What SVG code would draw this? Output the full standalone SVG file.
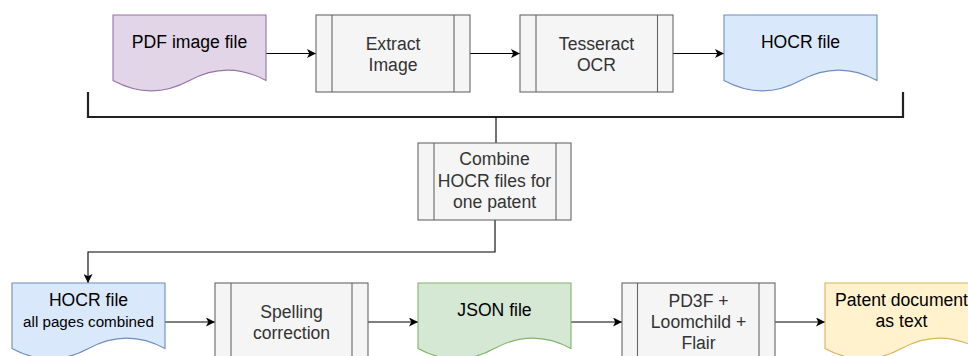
<svg xmlns="http://www.w3.org/2000/svg" width="968" height="356" viewBox="0 0 968 356">
<defs>
<marker id="arr" viewBox="0 0 10 10" refX="10" refY="5" markerWidth="9" markerHeight="9" markerUnits="userSpaceOnUse" orient="auto">
<path d="M0,0 L10,5 L0,10 L2.5,5 Z" fill="#000"/>
</marker>
<path id="doc" d="M0,0 H153 V65.5 Q114.75,44.7 76.5,65.5 Q38.25,86.2 0,65.5 Z"/>
</defs>
<style>
text{font-family:"Liberation Sans",Arial,Helvetica,sans-serif;font-size:17.6px;text-anchor:middle}
.proc rect{fill:#f5f5f5;stroke:#666666;stroke-width:1.1}
.proc line{stroke:#666666;stroke-width:1.1}
.proc text{fill:#333333}
.doc text{fill:#000}
.purple use{fill:#e1d5e7;stroke:#9673a6;stroke-width:1.1}
.blue use{fill:#dae8fc;stroke:#6c8ebf;stroke-width:1.1}
.green use{fill:#d5e8d4;stroke:#82b366;stroke-width:1.1}
.yellow use{fill:#fff2cc;stroke:#d6b656;stroke-width:1.1}
.small{font-size:15.2px}
.conn path{fill:none;stroke:#000;stroke-width:1.1}
.conn .thick{stroke:#222;stroke-width:2.2}
</style>

<g id="connectors" class="conn">
<path d="M266,53.5 H316" marker-end="url(#arr)"/>
<path d="M470,53.5 H520" marker-end="url(#arr)"/>
<path d="M673,53.5 H724" marker-end="url(#arr)"/>
<path class="thick" d="M88,92 V117 H903 V92"/>
<path d="M496,117 V143"/>
<path d="M495,220 V252 H88 V283" marker-end="url(#arr)"/>
<path d="M165,322 H215" marker-end="url(#arr)"/>
<path d="M368,322 H418" marker-end="url(#arr)"/>
<path d="M571,322 H622" marker-end="url(#arr)"/>
<path d="M775,322 H825" marker-end="url(#arr)"/>
</g>

<g id="pdf" class="doc purple" transform="translate(113,15)">
<use href="#doc"/>
<text x="76.5" y="33">PDF image file</text>
</g>

<g id="extract" class="proc">
<rect x="316" y="15" width="154" height="77"/>
<line x1="332" y1="15" x2="332" y2="92"/>
<line x1="454" y1="15" x2="454" y2="92"/>
<text x="393" y="49.5">Extract</text>
<text x="393" y="70.5">Image</text>
</g>

<g id="tesseract" class="proc">
<rect x="520" y="15" width="153" height="77"/>
<line x1="536" y1="15" x2="536" y2="92"/>
<line x1="657.5" y1="15" x2="657.5" y2="92"/>
<text x="596.5" y="49.5">Tesseract</text>
<text x="596.5" y="70.5">OCR</text>
</g>

<g id="hocr" class="doc blue" transform="translate(724,15)">
<use href="#doc"/>
<text x="76.5" y="33">HOCR file</text>
</g>

<g id="combine" class="proc">
<rect x="418" y="143" width="153" height="77"/>
<line x1="434" y1="143" x2="434" y2="220"/>
<line x1="556" y1="143" x2="556" y2="220"/>
<text x="494.5" y="165">Combine</text>
<text x="494.5" y="186.5">HOCR files for</text>
<text x="494.5" y="207.5">one patent</text>
</g>

<g id="hocr-all" class="doc blue" transform="translate(12,283)">
<use href="#doc"/>
<text x="76.5" y="23">HOCR file</text>
<text class="small" x="76.5" y="44">all pages combined</text>
</g>

<g id="spelling" class="proc">
<rect x="215" y="283" width="153" height="77"/>
<line x1="231" y1="283" x2="231" y2="360"/>
<line x1="352" y1="283" x2="352" y2="360"/>
<text x="291.5" y="317.5">Spelling</text>
<text x="291.5" y="338.5">correction</text>
</g>

<g id="json" class="doc green" transform="translate(418,283)">
<use href="#doc"/>
<text x="76.5" y="33">JSON file</text>
</g>

<g id="pd3f" class="proc">
<rect x="622" y="283" width="153" height="77"/>
<line x1="637.5" y1="283" x2="637.5" y2="360"/>
<line x1="759" y1="283" x2="759" y2="360"/>
<text x="698.5" y="307">PD3F +</text>
<text x="698.5" y="328">Loomchild +</text>
<text x="698.5" y="349">Flair</text>
</g>

<g id="patent" class="doc yellow" transform="translate(825,283)">
<use href="#doc"/>
<text x="76.5" y="23">Patent document</text>
<text x="76.5" y="44">as text</text>
</g>
</svg>
